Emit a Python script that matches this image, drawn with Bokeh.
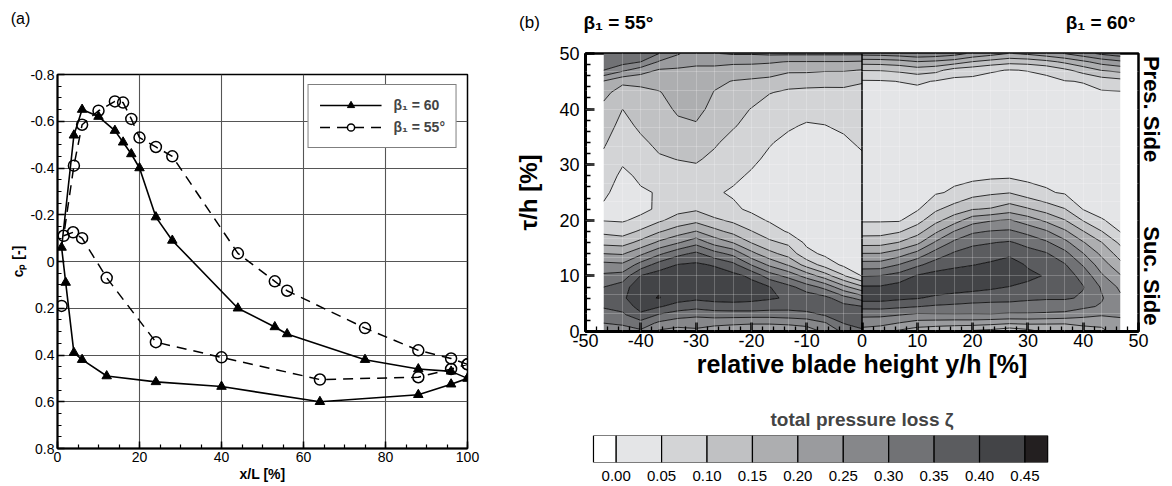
import numpy as np
from math import pi
from bokeh.plotting import figure
from bokeh.models import (Range1d, SingleIntervalTicker, FixedTicker, Legend,
                          LegendItem, Span, NumeralTickFormatter, LinearAxis)
from bokeh.layouts import row, column
from bokeh.core.properties import value
from bokeh.embed import file_html
from bokeh.resources import INLINE

FONT = "Liberation Sans"

# ---------------- panel (a): pressure distribution ----------------
# beta1 = 60 : suction side (TE -> LE) then pressure side (LE -> TE)
x_60 = [100, 96, 88, 75, 56, 53, 44, 28, 24, 20, 18, 16, 14, 10, 6, 4, 1,
        2, 4, 6, 12, 24, 40, 64, 88, 96, 100]
cp_60 = [0.50, 0.47, 0.46, 0.42, 0.31, 0.28, 0.20, -0.09, -0.19, -0.40, -0.46, -0.51, -0.56, -0.62, -0.65, -0.54, -0.06,
         0.09, 0.39, 0.42, 0.49, 0.515, 0.535, 0.60, 0.57, 0.525, 0.50]
# beta1 = 55 deg
x_55 = [100, 96, 88, 75, 56, 53, 44, 28, 24, 20, 18, 16, 14, 10, 6, 4, 1.5,
        3.8, 6, 12, 24, 40, 64, 88, 96, 100]
cp_55 = [0.44, 0.415, 0.38, 0.285, 0.125, 0.085, -0.035, -0.45, -0.49, -0.53, -0.61, -0.68, -0.685, -0.645, -0.585, -0.41, -0.11,
         -0.125, -0.10, 0.07, 0.345, 0.41, 0.505, 0.495, 0.46, 0.44]
x_55_le = [1.0]
cp_55_le = [0.19]

cp_ticks = [-0.8, -0.6, -0.4, -0.2, 0, 0.2, 0.4, 0.6, 0.8]
cp_tick_labels = ["-0.8", "-0.6", "-0.4", "-0.2", "0", "0.2", "0.4", "0.6", "0.8"]
legend_labels = ["\u03b2\u2081 = 60", "\u03b2\u2081 = 55\u00b0"]

# ---------------- panel (b): total pressure loss field ----------------
tau_rows = [0, 1.5, 3, 4.5, 6, 8, 10, 12, 14, 16, 18, 20, 22, 25, 28, 31, 34, 37, 40, 43, 45, 47, 48.5, 50]
yh_55 = [-46.7, -43.3, -40, -36.7, -33.3, -30, -26.7, -23.3, -20, -16.7, -13.3, -10, -6.7, -3.3, 0]
yh_60 = [0, 3.3, 6.7, 10, 13.3, 16.7, 20, 23.3, 26.7, 30, 33.3, 36.7, 40, 43.3, 46.7]
yh_ticks = [-50, -40, -30, -20, -10, 0, 10, 20, 30, 40, 50]
yh_tick_labels = ["-50", "-40", "-30", "-20", "-10", "0", "10", "20", "30", "40", "50"]
side_ticks = [10, 40]
side_labels = ["Suc. Side", "Pres. Side"]
# traverse grid of the probe (faint lines in the map)
probe_y = [-43.3, -40, -36.7, -33.3, -30, -26.7, -23.3, -20, -16.7, -13.3, -10, -6.7, -3.3,
           3.3, 6.7, 10, 13.3, 16.7, 20, 23.3, 26.7, 30, 33.3, 36.7, 40, 43.3]
probe_tau = [3.3, 6.7, 10, 13.3, 16.7, 20, 23.3, 26.7, 30, 33.3, 36.7, 40, 43.3, 46.7]

# one list per blade-height column, values along tau_rows
loss_55 = [
    [0.28, 0.30, 0.33, 0.355, 0.36, 0.35, 0.31, 0.265, 0.20, 0.135, 0.088, 0.048, 0.042, 0.059, 0.075, 0.09, 0.106, 0.121, 0.138, 0.163, 0.197, 0.30, 0.32, 0.34],
    [0.27, 0.31, 0.34, 0.37, 0.39, 0.375, 0.32, 0.26, 0.195, 0.13, 0.078, 0.045, 0.035, 0.03, 0.04, 0.058, 0.071, 0.086, 0.10, 0.13, 0.16, 0.26, 0.32, 0.34],
    [0.29, 0.33, 0.39, 0.42, 0.44, 0.44, 0.402, 0.32, 0.24, 0.165, 0.108, 0.062, 0.038, 0.045, 0.058, 0.072, 0.092, 0.108, 0.125, 0.14, 0.16, 0.225, 0.30, 0.33],
    [0.24, 0.29, 0.345, 0.405, 0.452, 0.446, 0.425, 0.372, 0.29, 0.21, 0.145, 0.092, 0.058, 0.053, 0.07, 0.095, 0.11, 0.122, 0.133, 0.147, 0.168, 0.195, 0.245, 0.30],
    [0.23, 0.27, 0.323, 0.38, 0.42, 0.44, 0.435, 0.402, 0.335, 0.245, 0.175, 0.12, 0.085, 0.068, 0.082, 0.101, 0.12, 0.14, 0.157, 0.17, 0.18, 0.193, 0.222, 0.255],
    [0.24, 0.267, 0.312, 0.367, 0.41, 0.435, 0.44, 0.409, 0.361, 0.283, 0.202, 0.136, 0.094, 0.075, 0.085, 0.105, 0.125, 0.145, 0.165, 0.18, 0.185, 0.195, 0.205, 0.22],
    [0.22, 0.265, 0.32, 0.38, 0.415, 0.435, 0.43, 0.395, 0.32, 0.23, 0.165, 0.11, 0.07, 0.055, 0.07, 0.09, 0.106, 0.12, 0.135, 0.148, 0.16, 0.185, 0.215, 0.248],
    [0.21, 0.26, 0.32, 0.385, 0.415, 0.43, 0.415, 0.365, 0.285, 0.198, 0.135, 0.09, 0.058, 0.045, 0.058, 0.07, 0.085, 0.104, 0.12, 0.136, 0.148, 0.178, 0.21, 0.255],
    [0.21, 0.255, 0.32, 0.385, 0.41, 0.42, 0.39, 0.298, 0.215, 0.148, 0.102, 0.066, 0.042, 0.035, 0.045, 0.058, 0.07, 0.085, 0.098, 0.125, 0.143, 0.175, 0.21, 0.255],
    [0.21, 0.255, 0.32, 0.375, 0.405, 0.402, 0.325, 0.24, 0.165, 0.11, 0.072, 0.045, 0.035, 0.03, 0.035, 0.042, 0.053, 0.066, 0.08, 0.102, 0.135, 0.175, 0.205, 0.26],
    [0.21, 0.26, 0.325, 0.37, 0.395, 0.365, 0.285, 0.195, 0.13, 0.09, 0.045, 0.032, 0.028, 0.025, 0.027, 0.032, 0.04, 0.055, 0.072, 0.093, 0.117, 0.16, 0.198, 0.26],
    [0.22, 0.27, 0.33, 0.38, 0.38, 0.325, 0.23, 0.13, 0.065, 0.04, 0.032, 0.028, 0.025, 0.022, 0.022, 0.025, 0.032, 0.046, 0.065, 0.09, 0.115, 0.16, 0.198, 0.26],
    [0.26, 0.295, 0.355, 0.38, 0.365, 0.285, 0.175, 0.08, 0.04, 0.03, 0.028, 0.025, 0.022, 0.02, 0.02, 0.024, 0.032, 0.049, 0.066, 0.09, 0.112, 0.155, 0.198, 0.26],
    [0.31, 0.352, 0.375, 0.365, 0.32, 0.215, 0.105, 0.04, 0.03, 0.028, 0.025, 0.022, 0.02, 0.02, 0.022, 0.028, 0.042, 0.058, 0.072, 0.092, 0.11, 0.155, 0.198, 0.26],
    [0.34, 0.37, 0.37, 0.352, 0.28, 0.16, 0.048, 0.03, 0.028, 0.025, 0.022, 0.02, 0.02, 0.022, 0.028, 0.042, 0.058, 0.07, 0.08, 0.092, 0.102, 0.148, 0.195, 0.26],
]
loss_60 = [
    [0.22, 0.28, 0.308, 0.368, 0.42, 0.405, 0.348, 0.271, 0.202, 0.131, 0.079, 0.045, 0.035, 0.03, 0.028, 0.027, 0.027, 0.028, 0.03, 0.035, 0.045, 0.102, 0.17, 0.27],
    [0.21, 0.27, 0.31, 0.368, 0.42, 0.405, 0.352, 0.272, 0.202, 0.132, 0.08, 0.045, 0.035, 0.03, 0.027, 0.026, 0.026, 0.027, 0.029, 0.034, 0.046, 0.103, 0.172, 0.272],
    [0.19, 0.248, 0.302, 0.36, 0.41, 0.42, 0.37, 0.302, 0.227, 0.152, 0.095, 0.045, 0.035, 0.03, 0.027, 0.025, 0.025, 0.026, 0.028, 0.034, 0.051, 0.11, 0.18, 0.28],
    [0.17, 0.23, 0.29, 0.352, 0.403, 0.43, 0.405, 0.34, 0.267, 0.187, 0.13, 0.081, 0.045, 0.035, 0.03, 0.027, 0.025, 0.025, 0.027, 0.035, 0.058, 0.125, 0.198, 0.29],
    [0.16, 0.225, 0.293, 0.343, 0.39, 0.43, 0.42, 0.372, 0.322, 0.257, 0.19, 0.135, 0.091, 0.045, 0.035, 0.03, 0.027, 0.025, 0.027, 0.033, 0.047, 0.115, 0.19, 0.285],
    [0.15, 0.222, 0.294, 0.339, 0.38, 0.425, 0.43, 0.387, 0.357, 0.312, 0.252, 0.177, 0.123, 0.056, 0.04, 0.032, 0.028, 0.026, 0.027, 0.032, 0.035, 0.08, 0.175, 0.27],
    [0.14, 0.222, 0.294, 0.336, 0.37, 0.42, 0.435, 0.398, 0.377, 0.337, 0.292, 0.229, 0.148, 0.081, 0.035, 0.033, 0.029, 0.027, 0.027, 0.03, 0.035, 0.07, 0.148, 0.24],
    [0.13, 0.215, 0.295, 0.335, 0.365, 0.41, 0.44, 0.41, 0.375, 0.348, 0.303, 0.246, 0.154, 0.092, 0.04, 0.033, 0.03, 0.028, 0.027, 0.029, 0.033, 0.055, 0.13, 0.22],
    [0.11, 0.206, 0.292, 0.332, 0.365, 0.398, 0.44, 0.43, 0.388, 0.355, 0.308, 0.254, 0.176, 0.098, 0.042, 0.035, 0.031, 0.029, 0.028, 0.028, 0.032, 0.048, 0.115, 0.198],
    [0.13, 0.21, 0.292, 0.33, 0.358, 0.385, 0.415, 0.393, 0.369, 0.335, 0.285, 0.225, 0.155, 0.075, 0.035, 0.034, 0.031, 0.029, 0.028, 0.029, 0.033, 0.052, 0.12, 0.21],
    [0.16, 0.205, 0.29, 0.325, 0.355, 0.375, 0.395, 0.38, 0.355, 0.308, 0.256, 0.19, 0.13, 0.055, 0.038, 0.033, 0.03, 0.029, 0.03, 0.033, 0.036, 0.062, 0.135, 0.23],
    [0.18, 0.202, 0.285, 0.325, 0.355, 0.373, 0.372, 0.354, 0.315, 0.265, 0.208, 0.152, 0.102, 0.045, 0.036, 0.032, 0.03, 0.03, 0.032, 0.037, 0.048, 0.09, 0.16, 0.252],
    [0.19, 0.205, 0.27, 0.31, 0.345, 0.352, 0.335, 0.295, 0.252, 0.204, 0.152, 0.097, 0.048, 0.04, 0.035, 0.032, 0.031, 0.031, 0.034, 0.04, 0.052, 0.12, 0.19, 0.28],
    [0.19, 0.21, 0.255, 0.295, 0.305, 0.295, 0.258, 0.225, 0.19, 0.152, 0.102, 0.052, 0.042, 0.037, 0.034, 0.032, 0.032, 0.033, 0.036, 0.045, 0.07, 0.152, 0.22, 0.31],
    [0.22, 0.24, 0.255, 0.262, 0.26, 0.24, 0.205, 0.165, 0.128, 0.09, 0.048, 0.042, 0.038, 0.035, 0.033, 0.032, 0.032, 0.034, 0.037, 0.046, 0.082, 0.165, 0.24, 0.33],
]

loss_levels = [0.0, 0.05, 0.10, 0.15, 0.20, 0.25, 0.30, 0.35, 0.40, 0.45, 0.60]
band_colors = ["#e4e5e7", "#d3d4d6", "#c0c1c3", "#adaeb0", "#9a9b9e",
               "#86878a", "#717275", "#5b5c5f", "#434447", "#231f20"]
# colour-bar segments (white end below 0, black end above 0.45)
cb_edges = [-0.025, 0.0, 0.05, 0.10, 0.15, 0.20, 0.25, 0.30, 0.35, 0.40, 0.45, 0.475]
cb_colors = ["#ffffff"] + band_colors
cb_ticks = [0.0, 0.05, 0.10, 0.15, 0.20, 0.25, 0.30, 0.35, 0.40, 0.45]

# panel captions (header strip, pixel positions)
cap_text = ["(a)", "(b)", "\u03b2\u2081 = 55\u00b0", "\u03b2\u2081 = 60\u00b0"]
cap_x = [20, 529, 583, 1135]
cap_y = [18, 22, 22, 22]
cap_align = ["center", "center", "left", "right"]
cap_style = ["normal", "normal", "bold", "bold"]
cap_size = ["16px", "17px", "19px", "19px"]


def style_axis(ax, size, label_size=None):
    ax.major_label_text_font = FONT
    ax.major_label_text_font_size = size
    ax.major_label_text_color = "black"
    ax.axis_label_text_font = FONT
    ax.axis_label_text_font_style = "bold"
    ax.axis_label_text_color = "black"
    if label_size:
        ax.axis_label_text_font_size = label_size
    ax.axis_line_color = "black"
    ax.major_tick_line_color = "black"
    ax.minor_tick_line_color = "black"
    ax.major_tick_out = 0
    ax.minor_tick_out = 0


# ================= header =================
W, H_HEAD = 1172, 40
head = figure(width=W, height=H_HEAD, output_backend="svg", toolbar_location=None,
              x_range=Range1d(0, W), y_range=Range1d(H_HEAD, 0),
              min_border=0, min_border_left=0, min_border_right=0,
              min_border_top=0, min_border_bottom=0)
head.axis.visible = False
head.grid.visible = False
head.outline_line_color = None
head.background_fill_color = "white"
head.border_fill_color = "white"
for t, x, y, a, s, fs in zip(cap_text, cap_x, cap_y, cap_align, cap_style, cap_size):
    head.text(x=[x], y=[y], text=[t], text_align=a, text_baseline="middle",
              text_font=value(FONT), text_font_style=s, text_font_size=fs, text_color="black")

# ================= figure (a) =================
p1 = figure(width=512, height=446, output_backend="svg", toolbar_location=None,
            x_range=Range1d(0, 100), y_range=Range1d(0.8, -0.8),
            min_border_left=57, min_border_right=45, min_border_top=34, min_border_bottom=38)
p1.background_fill_color = "white"
p1.border_fill_color = "white"
p1.outline_line_color = "black"
p1.outline_line_width = 1.5

xt = SingleIntervalTicker(interval=20, num_minor_ticks=4)
yt = FixedTicker(ticks=cp_ticks, minor_ticks=np.round(np.arange(-0.8, 0.8001, 0.05), 2).tolist())
p1.xaxis.ticker = xt
p1.yaxis.ticker = yt
p1.xgrid.ticker = xt
p1.ygrid.ticker = yt
for g in (p1.xgrid, p1.ygrid):
    g.grid_line_color = "#555555"
    g.grid_line_width = 1.1

style_axis(p1.xaxis[0], "14px", "14px")
style_axis(p1.yaxis[0], "14px", "14px")
for ax in (p1.xaxis[0], p1.yaxis[0]):
    ax.axis_line_width = 2
    ax.major_tick_in = 7
    ax.minor_tick_in = 4
    ax.major_tick_line_width = 1.5
    ax.minor_tick_line_width = 1.2
    ax.major_label_standoff = 3
    ax.axis_label_standoff = 1
p1.xaxis.axis_label = "x/L [%]"
p1.yaxis.axis_label = "c\u209a [-]"
p1.yaxis.major_label_overrides = {t: s for t, s in zip(cp_ticks, cp_tick_labels)}

l60 = p1.line(x_60, cp_60, line_color="black", line_width=1.6)
s60 = p1.scatter(x_60, cp_60, marker="triangle", size=9.5, fill_color="black", line_color="black")
l55 = p1.line(x_55, cp_55, line_color="black", line_width=1.5, line_dash="10 7")
s55 = p1.scatter(x_55, cp_55, marker="circle", size=11, fill_alpha=0, line_color="black", line_width=1.5)
p1.scatter(x_55_le, cp_55_le, marker="circle", size=11, fill_alpha=0, line_color="black", line_width=1.5)

legend = Legend(items=[LegendItem(label=legend_labels[0], renderers=[l60, s60]),
                       LegendItem(label=legend_labels[1], renderers=[l55, s55])],
                location="top_right")
legend.margin = 10
legend.padding = 11
legend.spacing = 4
legend.glyph_width = 62
legend.glyph_height = 18
legend.label_height = 18
legend.label_standoff = 12
legend.label_text_font = FONT
legend.label_text_font_size = "14px"
legend.label_text_font_style = "bold"
legend.border_line_color = "black"
legend.border_line_width = 1
legend.background_fill_alpha = 1
p1.add_layout(legend)

# ================= figure (b) =================
BL, BR = 72, 34
p2 = figure(width=660, height=346, output_backend="svg", toolbar_location=None,
            x_range=Range1d(-50, 50), y_range=Range1d(0, 50),
            min_border_left=BL, min_border_right=BR, min_border_top=13, min_border_bottom=55)
p2.background_fill_color = "white"
p2.border_fill_color = "white"
p2.outline_line_color = "black"
p2.outline_line_width = 2.5

z55 = np.array(loss_55).T
z60 = np.array(loss_60).T
p2.contour(x=yh_55, y=tau_rows, z=z55, levels=loss_levels,
           fill_color=band_colors, line_color="black", line_width=0.8)
p2.contour(x=yh_60, y=tau_rows, z=z60, levels=loss_levels,
           fill_color=band_colors, line_color="black", line_width=0.8)
p2.add_layout(Span(location=0, dimension="height", line_color="black", line_width=1.5))

# faint probe-traverse grid drawn on top of the map
p2.xgrid.ticker = FixedTicker(ticks=probe_y, minor_ticks=[])
p2.ygrid.ticker = FixedTicker(ticks=probe_tau, minor_ticks=[])
for g in (p2.xgrid, p2.ygrid):
    g.grid_line_color = "white"
    g.grid_line_alpha = 0.22
    g.grid_line_width = 1
    g.level = "overlay"

p2.xaxis.ticker = SingleIntervalTicker(interval=10, num_minor_ticks=5)
p2.yaxis.ticker = SingleIntervalTicker(interval=10, num_minor_ticks=5)
p2.xaxis.major_label_overrides = {t: s for t, s in zip(yh_ticks, yh_tick_labels)}
style_axis(p2.xaxis[0], "18px", "25px")
style_axis(p2.yaxis[0], "18px", "24px")
for ax in (p2.xaxis[0], p2.yaxis[0]):
    ax.axis_line_width = 3
    ax.major_tick_in = 9
    ax.minor_tick_in = 5
    ax.major_tick_line_width = 2.5
    ax.minor_tick_line_width = 1.3
p2.xaxis.major_label_standoff = 2
p2.xaxis.axis_label_standoff = 0
p2.yaxis.major_label_standoff = 6
p2.yaxis.axis_label_standoff = 14
p2.xaxis.axis_label = "relative blade height y/h [%]"
p2.yaxis.axis_label = "\u03c4/h [%]"

side = LinearAxis(ticker=FixedTicker(ticks=side_ticks, minor_ticks=[]))
side.major_label_overrides = {t: s for t, s in zip(side_ticks, side_labels)}
side.major_label_orientation = "vertical"
side.major_label_text_font = FONT
side.major_label_text_font_size = "22px"
side.major_label_text_font_style = "bold"
side.major_label_text_color = "black"
side.major_label_standoff = 0
side.major_tick_in = 0
side.major_tick_out = 0
side.minor_tick_in = 0
side.minor_tick_out = 0
side.axis_line_color = None
side.major_tick_line_color = None
side.minor_tick_line_color = None
p2.add_layout(side, "right")

# ================= colour bar =================
px_per_unit = 910.0
cb_start = cb_edges[0] - 8 / px_per_unit
cb_end = cb_edges[-1] + 91 / px_per_unit
p3 = figure(width=660, height=100, output_backend="svg", toolbar_location=None,
            x_range=Range1d(cb_start, cb_end), y_range=Range1d(0, 1),
            min_border_left=BL, min_border_right=BR, min_border_top=49, min_border_bottom=24)
p3.background_fill_color = "white"
p3.border_fill_color = "white"
p3.outline_line_color = None
p3.xgrid.visible = False
p3.ygrid.visible = False
p3.yaxis.visible = False
p3.quad(left=cb_edges[:-1], right=cb_edges[1:], bottom=0, top=1,
        fill_color=cb_colors, line_color="black", line_width=1.2)
p3.xaxis.ticker = FixedTicker(ticks=cb_ticks, minor_ticks=[])
p3.xaxis.formatter = NumeralTickFormatter(format="0.00")
style_axis(p3.xaxis[0], "15px")
p3.xaxis.axis_line_color = None
p3.xaxis.major_tick_line_color = None
p3.xaxis.minor_tick_line_color = None
p3.xaxis.major_tick_in = 0
p3.xaxis.minor_tick_in = 0
p3.xaxis.major_label_standoff = 8
p3.title.text = "total pressure loss \u03b6"
p3.title.align = "center"
p3.title.offset = -39
p3.title.text_font = FONT
p3.title.text_font_size = "19px"
p3.title.text_font_style = "bold"
p3.title.standoff = 12

layout = column(head, row(p1, column(p2, p3)))
open("out.html", "w").write(file_html(layout, INLINE))
